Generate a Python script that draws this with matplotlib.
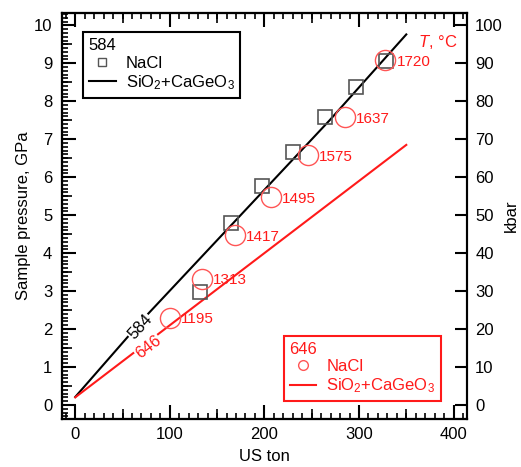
import matplotlib
matplotlib.use("Agg")
import matplotlib.pyplot as plt
from matplotlib.lines import Line2D
from matplotlib.ticker import MultipleLocator, FixedLocator, NullFormatter

plt.rcParams['font.family'] = ['Liberation Sans', 'DejaVu Sans']
plt.rcParams['mathtext.fontset'] = 'custom'
plt.rcParams['mathtext.rm'] = 'Liberation Sans'
plt.rcParams['mathtext.it'] = 'Liberation Sans:italic'
plt.rcParams['font.size'] = 12

# run 584: NaCl pressure and SiO2+CaGeO3 calibration
ton_584 = [132, 165, 197, 230, 264, 297, 329]
p_584 = [2.97, 4.79, 5.76, 6.66, 7.58, 8.37, 9.05]
cal_ton_584 = [0, 74, 269, 350]
cal_p_584 = [0.21, 2.32, 7.5, 9.76]

# run 646: NaCl pressure with temperature, SiO2+CaGeO3 calibration
ton_646 = [100, 134, 169, 207, 246, 285, 328]
p_646 = [2.29, 3.32, 4.47, 5.47, 6.58, 7.58, 9.08]
temp_646 = [1195, 1313, 1417, 1495, 1575, 1637, 1720]
cal_ton_646 = [0, 350]
cal_p_646 = [0.2, 6.85]

red = '#ff1a1a'
lightred = '#ff5555'
grey = '#555555'

fig = plt.figure(figsize=(5.21, 4.67), dpi=100)
ax = fig.add_axes([0.119, 0.1028, 0.777, 0.869])

ax.plot(cal_ton_584, cal_p_584, color='black', lw=1.5, zorder=2)
ax.plot(cal_ton_646, cal_p_646, color=red, lw=1.5, zorder=2)
ax.plot(ton_584, p_584, 's', ms=9.5, mfc='none', mec=grey, mew=1.2, zorder=3)
ax.plot(ton_646, p_646, 'o', ms=14.5, mfc='none', mec=lightred, mew=1.0, zorder=3)

for t, p, T in zip(ton_646, p_646, temp_646):
    ax.annotate(str(T), (t, p), xytext=(8, -1), textcoords='offset points',
                va='center', ha='left', color=red, fontsize=11)

ax.text(68.6, 2.05, '584', rotation=47.5, ha='center', va='center', fontsize=12,
        bbox=dict(facecolor='white', edgecolor='none', pad=0.5), zorder=4)
ax.text(77, 1.53, '646', rotation=37.4, ha='center', va='center', fontsize=12,
        color=red, bbox=dict(facecolor='white', edgecolor='none', pad=0.5), zorder=4)

ax.text(404, 9.55, '$T$, °C', color=red, ha='right', va='center', fontsize=12)

ax.set_xlim(-14, 414)
ax.set_ylim(-0.37, 10.32)
ax.set_xlabel('US ton', labelpad=5)
ax.set_ylabel('Sample pressure, GPa', labelpad=2)

for s in ax.spines.values():
    s.set_linewidth(1.5)

ax.xaxis.set_major_locator(MultipleLocator(100))
ax.xaxis.set_minor_locator(MultipleLocator(10))
ax.yaxis.set_major_locator(MultipleLocator(1))
ax.yaxis.set_minor_locator(MultipleLocator(0.1))
ax.tick_params(which='major', direction='in', length=10, width=1.5, top=True, right=False)
ax.tick_params(which='minor', direction='in', length=4.5, width=1.2, top=True, right=False)
ax.tick_params(axis='x', which='major', pad=6)
ax.tick_params(axis='y', which='major', pad=7)

# medium ticks at 50 ton / 0.5 GPa
mid_x = [50, 150, 250, 350]
mid_y = [0.5 + i for i in range(10)]
for loc in ('bottom', 'top'):
    sec = ax.secondary_xaxis(loc)
    sec.xaxis.set_major_locator(FixedLocator(mid_x))
    sec.xaxis.set_major_formatter(NullFormatter())
    sec.tick_params(direction='in', length=7, width=1.2)
    sec.spines[loc].set_linewidth(1.5)
sec = ax.secondary_yaxis('left')
sec.yaxis.set_major_locator(FixedLocator(mid_y))
sec.yaxis.set_major_formatter(NullFormatter())
sec.tick_params(direction='in', length=7, width=1.2)
sec.spines['left'].set_linewidth(1.5)

# kbar scale on the right
ax2 = ax.twinx()
ax2.set_ylim(-3.7, 103.2)
ax2.yaxis.set_major_locator(MultipleLocator(10))
ax2.tick_params(direction='in', length=9, width=1.5, pad=6)
ax2.set_ylabel('kbar', labelpad=1)
for s in ax2.spines.values():
    s.set_linewidth(1.5)

h584 = [Line2D([], [], ls='none', marker='s', ms=6, mfc='none', mec=grey, mew=1.0),
        Line2D([], [], color='black', lw=1.5)]
leg1 = ax.legend(h584, ['NaCl', 'SiO$_\\mathregular{2}$+CaGeO$_\\mathregular{3}$'],
                 title='584', alignment='left', loc='upper left',
                 bbox_to_anchor=(0.052, 0.953), borderaxespad=0, fancybox=False,
                 framealpha=1, edgecolor='black', handlelength=1.6, handletextpad=0.6,
                 borderpad=0.35, labelspacing=0.15, fontsize=12, title_fontsize=12)
leg1.get_frame().set_linewidth(1.5)
ax.add_artist(leg1)

h646 = [Line2D([], [], ls='none', marker='o', ms=7, mfc='none', mec=lightred, mew=1.0),
        Line2D([], [], color=red, lw=1.5)]
leg2 = ax.legend(h646, ['NaCl', 'SiO$_\\mathregular{2}$+CaGeO$_\\mathregular{3}$'],
                 title='646', alignment='left', loc='lower right',
                 bbox_to_anchor=(0.936, 0.044), borderaxespad=0, fancybox=False,
                 framealpha=1, edgecolor=red, handlelength=1.6, handletextpad=0.6,
                 borderpad=0.35, labelspacing=0.15, fontsize=12, title_fontsize=12,
                 labelcolor=red)
leg2.get_title().set_color(red)
leg2.get_frame().set_linewidth(1.5)

fig.savefig('out.png', dpi=100)
